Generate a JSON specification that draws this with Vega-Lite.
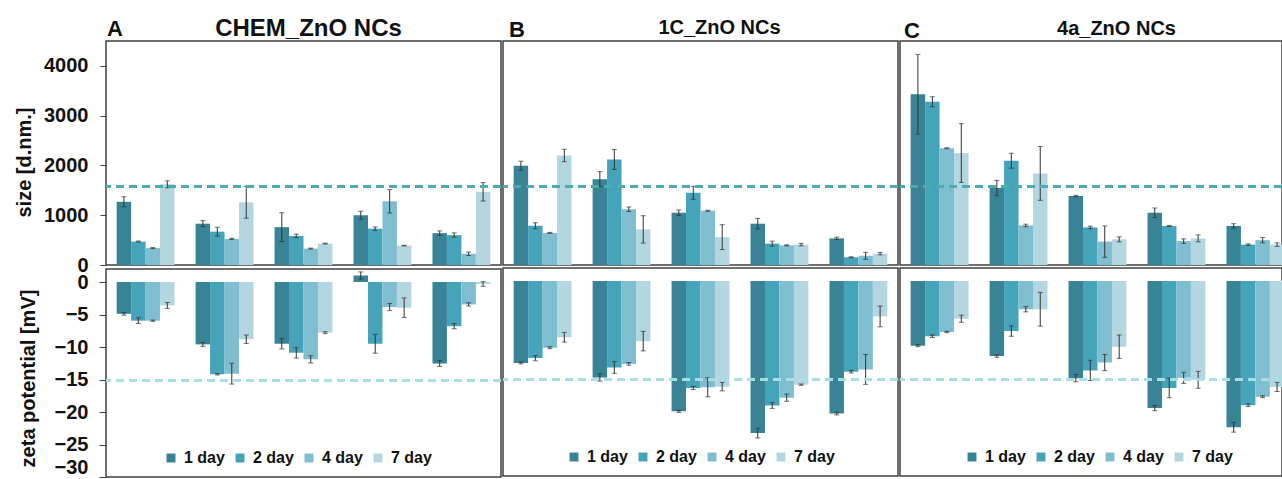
{
  "$schema": "https://vega.github.io/schema/vega-lite/v6.json",
  "padding": {"left": 13, "top": 15, "right": 0, "bottom": 2},
  "spacing": -3,
  "config": {
    "font": "Liberation Sans",
    "view": {"stroke": "#404040", "strokeWidth": 1.5},
    "axis": {"labelFont": "Liberation Sans", "titleFont": "Liberation Sans", "labelFontWeight": "bold", "titleFontWeight": "bold", "labelFontSize": 20, "titleFontSize": 20, "labelColor": "#111111", "titleColor": "#111111", "tickColor": "#404040", "grid": false},
    "title": {"font": "Liberation Sans", "fontWeight": "bold", "color": "#111111"}
  },
  "datasets": {
    "t": [
      {"s": "A", "g": 1, "d": "1 day", "size": 1270, "se": 100, "zeta": -4.9, "ze": 0.2},
      {"s": "A", "g": 1, "d": "2 day", "size": 470, "se": 10, "zeta": -5.95, "ze": 0.45},
      {"s": "A", "g": 1, "d": "4 day", "size": 340, "se": 10, "zeta": -5.95, "ze": 0.1},
      {"s": "A", "g": 1, "d": "7 day", "size": 1620, "se": 70, "zeta": -3.6, "ze": 0.45},
      {"s": "A", "g": 2, "d": "1 day", "size": 830, "se": 60, "zeta": -9.6, "ze": 0.3},
      {"s": "A", "g": 2, "d": "2 day", "size": 670, "se": 90, "zeta": -14.2, "ze": 0.1},
      {"s": "A", "g": 2, "d": "4 day", "size": 525, "se": 12, "zeta": -14.1, "ze": 1.6},
      {"s": "A", "g": 2, "d": "7 day", "size": 1260, "se": 320, "zeta": -8.8, "ze": 0.65},
      {"s": "A", "g": 3, "d": "1 day", "size": 760, "se": 290, "zeta": -9.5, "ze": 0.8},
      {"s": "A", "g": 3, "d": "2 day", "size": 585, "se": 35, "zeta": -10.9, "ze": 0.8},
      {"s": "A", "g": 3, "d": "4 day", "size": 330, "se": 10, "zeta": -11.9, "ze": 0.55},
      {"s": "A", "g": 3, "d": "7 day", "size": 430, "se": 8, "zeta": -7.8, "ze": 0.15},
      {"s": "A", "g": 4, "d": "1 day", "size": 1000, "se": 80, "zeta": 1.0, "ze": 0.55},
      {"s": "A", "g": 4, "d": "2 day", "size": 730, "se": 35, "zeta": -9.5, "ze": 1.45},
      {"s": "A", "g": 4, "d": "4 day", "size": 1280, "se": 235, "zeta": -3.85, "ze": 0.55},
      {"s": "A", "g": 4, "d": "7 day", "size": 390, "se": 6, "zeta": -3.95, "ze": 1.5},
      {"s": "A", "g": 5, "d": "1 day", "size": 640, "se": 45, "zeta": -12.55, "ze": 0.45},
      {"s": "A", "g": 5, "d": "2 day", "size": 600, "se": 45, "zeta": -6.8, "ze": 0.4},
      {"s": "A", "g": 5, "d": "4 day", "size": 225, "se": 35, "zeta": -3.45, "ze": 0.25},
      {"s": "A", "g": 5, "d": "7 day", "size": 1470, "se": 185, "zeta": -0.3, "ze": 0.35},
      {"s": "B", "g": 1, "d": "1 day", "size": 1995, "se": 90, "zeta": -12.6, "ze": 0.15},
      {"s": "B", "g": 1, "d": "2 day", "size": 790, "se": 60, "zeta": -11.85, "ze": 0.4},
      {"s": "B", "g": 1, "d": "4 day", "size": 645, "se": 10, "zeta": -10.25, "ze": 0.15},
      {"s": "B", "g": 1, "d": "7 day", "size": 2200, "se": 125, "zeta": -8.65, "ze": 0.75},
      {"s": "B", "g": 2, "d": "1 day", "size": 1725, "se": 150, "zeta": -14.85, "ze": 0.55},
      {"s": "B", "g": 2, "d": "2 day", "size": 2120, "se": 200, "zeta": -13.3, "ze": 0.9},
      {"s": "B", "g": 2, "d": "4 day", "size": 1120, "se": 45, "zeta": -12.75, "ze": 0.2},
      {"s": "B", "g": 2, "d": "7 day", "size": 715, "se": 275, "zeta": -9.25, "ze": 1.5},
      {"s": "B", "g": 3, "d": "1 day", "size": 1050, "se": 55, "zeta": -20.05, "ze": 0.15},
      {"s": "B", "g": 3, "d": "2 day", "size": 1450, "se": 130, "zeta": -16.45, "ze": 0.25},
      {"s": "B", "g": 3, "d": "4 day", "size": 1090, "se": 10, "zeta": -16.35, "ze": 1.45},
      {"s": "B", "g": 3, "d": "7 day", "size": 560, "se": 250, "zeta": -16.25, "ze": 0.65},
      {"s": "B", "g": 4, "d": "1 day", "size": 830, "se": 105, "zeta": -23.4, "ze": 0.75},
      {"s": "B", "g": 4, "d": "2 day", "size": 430, "se": 50, "zeta": -19.15, "ze": 0.45},
      {"s": "B", "g": 4, "d": "4 day", "size": 395, "se": 10, "zeta": -17.95, "ze": 0.55},
      {"s": "B", "g": 4, "d": "7 day", "size": 410, "se": 25, "zeta": -15.95, "ze": 0.1},
      {"s": "B", "g": 5, "d": "1 day", "size": 535, "se": 25, "zeta": -20.4, "ze": 0.2},
      {"s": "B", "g": 5, "d": "2 day", "size": 155, "se": 10, "zeta": -13.95, "ze": 0.2},
      {"s": "B", "g": 5, "d": "4 day", "size": 185, "se": 70, "zeta": -13.6, "ze": 2.3},
      {"s": "B", "g": 5, "d": "7 day", "size": 228, "se": 25, "zeta": -5.45, "ze": 1.6},
      {"s": "C", "g": 1, "d": "1 day", "size": 3430, "se": 800, "zeta": -9.95, "ze": 0.15},
      {"s": "C", "g": 1, "d": "2 day", "size": 3280, "se": 100, "zeta": -8.5, "ze": 0.2},
      {"s": "C", "g": 1, "d": "4 day", "size": 2345, "se": 10, "zeta": -7.85, "ze": 0.1},
      {"s": "C", "g": 1, "d": "7 day", "size": 2250, "se": 590, "zeta": -5.8, "ze": 0.55},
      {"s": "C", "g": 2, "d": "1 day", "size": 1545, "se": 155, "zeta": -11.55, "ze": 0.2},
      {"s": "C", "g": 2, "d": "2 day", "size": 2095, "se": 150, "zeta": -7.7, "ze": 0.8},
      {"s": "C", "g": 2, "d": "4 day", "size": 795, "se": 25, "zeta": -4.35, "ze": 0.4},
      {"s": "C", "g": 2, "d": "7 day", "size": 1840, "se": 540, "zeta": -4.35, "ze": 2.6},
      {"s": "C", "g": 3, "d": "1 day", "size": 1385, "se": 15, "zeta": -14.95, "ze": 0.55},
      {"s": "C", "g": 3, "d": "2 day", "size": 755, "se": 25, "zeta": -13.75, "ze": 1.55},
      {"s": "C", "g": 3, "d": "4 day", "size": 470, "se": 315, "zeta": -12.55, "ze": 1.25},
      {"s": "C", "g": 3, "d": "7 day", "size": 515, "se": 50, "zeta": -10.1, "ze": 1.8},
      {"s": "C", "g": 4, "d": "1 day", "size": 1050, "se": 95, "zeta": -19.55, "ze": 0.4},
      {"s": "C", "g": 4, "d": "2 day", "size": 785, "se": 10, "zeta": -16.45, "ze": 1.5},
      {"s": "C", "g": 4, "d": "4 day", "size": 480, "se": 45, "zeta": -14.9, "ze": 0.85},
      {"s": "C", "g": 4, "d": "7 day", "size": 535, "se": 70, "zeta": -15.2, "ze": 1.3},
      {"s": "C", "g": 5, "d": "1 day", "size": 785, "se": 45, "zeta": -22.5, "ze": 0.75},
      {"s": "C", "g": 5, "d": "2 day", "size": 410, "se": 15, "zeta": -19.1, "ze": 0.2},
      {"s": "C", "g": 5, "d": "4 day", "size": 500, "se": 55, "zeta": -17.8, "ze": 0.15},
      {"s": "C", "g": 5, "d": "7 day", "size": 410, "se": 35, "zeta": -16.3, "ze": 0.7}
    ]
  },
  "resolve": {"scale": {"x": "independent", "y": "independent", "color": "independent"}, "legend": {"color": "independent"}},
  "hconcat": [
    {
      "columns": 1,
      "align": "none",
      "spacing": -8,
      "resolve": {"scale": {"x": "independent", "y": "independent", "color": "independent"}, "legend": {"color": "independent"}},
      "concat": [
        {
          "width": 395, "height": 224,
          "data": {"name": "t"},
          "transform": [{"filter": "datum.s === 'A'"}],
          "title": {"text": "A", "anchor": "start", "frame": "group", "fontSize": 22, "baseline": "alphabetic", "offset": -19, "dx": 1, "dy": 23},
          "layer": [
            {
              "encoding": {
                "x": {"field": "g", "type": "nominal", "scale": {"paddingInner": 0.267, "paddingOuter": 0.135}, "axis": {"orient": "top", "labels": false, "ticks": false, "domain": false, "title": "CHEM_ZnO NCs", "titleFontSize": 24, "titleX": 202, "titleY": -6, "titleAlign": "center", "titleBaseline": "alphabetic"}},
                "xOffset": {"field": "d", "type": "nominal", "scale": {"paddingInner": 0, "paddingOuter": 0}},
                "y": {"field": "size", "type": "quantitative", "scale": {"domain": [0, 4500], "nice": false}, "axis": {"values": [0, 1000, 2000, 3000, 4000], "format": "d", "title": "size [d.nm.]", "titleY": 121, "tickSize": 6, "labelPadding": 12, "titlePadding": 9, "labelOverlap": false, "domain": false}}
              },
              "layer": [
                {"mark": {"type": "bar"}, "encoding": {"color": {"field": "d", "type": "nominal", "scale": {"domain": ["1 day", "2 day", "4 day", "7 day"], "range": ["#388496", "#45A3BA", "#7FBDD0", "#B4D6E1"]}, "legend": null}}},
                {"mark": {"type": "errorbar", "ticks": {"size": 5}, "color": "#333333", "thickness": 1}, "encoding": {"yError": {"field": "se"}}}
              ]
            },
            {"mark": {"type": "rule", "strokeDash": [8, 5], "color": "#4BADB0", "strokeWidth": 2}, "encoding": {"y": {"datum": 1580, "type": "quantitative", "axis": {"values": [0, 1000, 2000, 3000, 4000], "format": "d", "title": "size [d.nm.]", "titleY": 121, "tickSize": 6, "labelPadding": 12, "titlePadding": 9, "labelOverlap": false, "domain": false}}}}
          ]
        },
        {
          "width": 395, "height": 208,
          "data": {"name": "t"},
          "transform": [{"filter": "datum.s === 'A'"}],
          "layer": [
            {
              "encoding": {
                "x": {"field": "g", "type": "nominal", "scale": {"paddingInner": 0.267, "paddingOuter": 0.135}, "axis": null},
                "xOffset": {"field": "d", "type": "nominal", "scale": {"paddingInner": 0, "paddingOuter": 0}},
                "y": {"field": "zeta", "type": "quantitative", "scale": {"domain": [-30, 2], "nice": false}, "axis": {"values": [-30, -25, -20, -15, -10, -5, 0], "title": "zeta potential [mV]", "titleY": 109, "tickSize": 7, "labelPadding": 11, "titlePadding": 16, "labelOverlap": false, "labelFlush": true, "domain": false}}
              },
              "layer": [
                {"mark": {"type": "bar"}, "encoding": {"color": {"field": "d", "type": "nominal", "scale": {"domain": ["1 day", "2 day", "4 day", "7 day"], "range": ["#388496", "#45A3BA", "#7FBDD0", "#B4D6E1"]}, "legend": {"orient": "none", "legendX": 57, "legendY": 181, "direction": "horizontal", "title": null, "symbolType": "square", "symbolSize": 80, "symbolStrokeWidth": 0, "labelFontSize": 16, "labelFontWeight": "bold", "labelFont": "Liberation Sans", "labelColor": "#111111", "columnPadding": 7, "labelOffset": 5}}}},
                {"mark": {"type": "errorbar", "ticks": {"size": 5}, "color": "#333333", "thickness": 1}, "encoding": {"yError": {"field": "ze"}}}
              ]
            },
            {"mark": {"type": "rule", "strokeDash": [8, 5], "color": "#A9DEE5", "strokeWidth": 2}, "encoding": {"y": {"datum": -15.2, "type": "quantitative", "axis": {"values": [-30, -25, -20, -15, -10, -5, 0], "title": "zeta potential [mV]", "titleY": 109, "tickSize": 7, "labelPadding": 11, "titlePadding": 16, "labelOverlap": false, "labelFlush": true, "domain": false}}}}
          ]
        }
      ]
    },
    {
      "spacing": 1,
      "resolve": {"scale": {"x": "independent", "y": "independent", "color": "independent"}, "legend": {"color": "independent"}},
      "vconcat": [
        {
          "width": 395, "height": 224,
          "data": {"name": "t"},
          "transform": [{"filter": "datum.s === 'B'"}],
          "title": {"text": "B", "anchor": "start", "frame": "group", "fontSize": 22, "baseline": "alphabetic", "offset": -19, "dx": 6, "dy": 23},
          "layer": [
            {
              "encoding": {
                "x": {"field": "g", "type": "nominal", "scale": {"paddingInner": 0.267, "paddingOuter": 0.135}, "axis": {"orient": "top", "labels": false, "ticks": false, "domain": false, "title": "1C_ZnO NCs", "titleFontSize": 20, "titleX": 216, "titleY": -8, "titleAlign": "center", "titleBaseline": "alphabetic"}},
                "xOffset": {"field": "d", "type": "nominal", "scale": {"paddingInner": 0, "paddingOuter": 0}},
                "y": {"field": "size", "type": "quantitative", "scale": {"domain": [0, 4500], "nice": false}, "axis": null}
              },
              "layer": [
                {"mark": {"type": "bar"}, "encoding": {"color": {"field": "d", "type": "nominal", "scale": {"domain": ["1 day", "2 day", "4 day", "7 day"], "range": ["#388496", "#45A3BA", "#7FBDD0", "#B4D6E1"]}, "legend": null}}},
                {"mark": {"type": "errorbar", "ticks": {"size": 5}, "color": "#333333", "thickness": 1}, "encoding": {"yError": {"field": "se"}}}
              ]
            },
            {"mark": {"type": "rule", "strokeDash": [8, 5], "color": "#4BADB0", "strokeWidth": 2}, "encoding": {"y": {"datum": 1580, "type": "quantitative", "axis": null}}}
          ]
        },
        {
          "width": 395, "height": 208,
          "data": {"name": "t"},
          "transform": [{"filter": "datum.s === 'B'"}],
          "layer": [
            {
              "encoding": {
                "x": {"field": "g", "type": "nominal", "scale": {"paddingInner": 0.267, "paddingOuter": 0.135}, "axis": null},
                "xOffset": {"field": "d", "type": "nominal", "scale": {"paddingInner": 0, "paddingOuter": 0}},
                "y": {"field": "zeta", "type": "quantitative", "scale": {"domain": [-30, 2], "nice": false}, "axis": null}
              },
              "layer": [
                {"mark": {"type": "bar"}, "encoding": {"color": {"field": "d", "type": "nominal", "scale": {"domain": ["1 day", "2 day", "4 day", "7 day"], "range": ["#388496", "#45A3BA", "#7FBDD0", "#B4D6E1"]}, "legend": {"orient": "none", "legendX": 63, "legendY": 181, "direction": "horizontal", "title": null, "symbolType": "square", "symbolSize": 80, "symbolStrokeWidth": 0, "labelFontSize": 16, "labelFontWeight": "bold", "labelFont": "Liberation Sans", "labelColor": "#111111", "columnPadding": 7, "labelOffset": 5}}}},
                {"mark": {"type": "errorbar", "ticks": {"size": 5}, "color": "#333333", "thickness": 1}, "encoding": {"yError": {"field": "ze"}}}
              ]
            },
            {"mark": {"type": "rule", "strokeDash": [8, 5], "color": "#A9DEE5", "strokeWidth": 2}, "encoding": {"y": {"datum": -15.2, "type": "quantitative", "axis": null}}}
          ]
        }
      ]
    },
    {
      "spacing": 1,
      "resolve": {"scale": {"x": "independent", "y": "independent", "color": "independent"}, "legend": {"color": "independent"}},
      "vconcat": [
        {
          "width": 382, "height": 224,
          "data": {"name": "t"},
          "transform": [{"filter": "datum.s === 'C'"}],
          "title": {"text": "C", "anchor": "start", "frame": "group", "fontSize": 22, "baseline": "alphabetic", "offset": -19, "dx": 4, "dy": 23},
          "layer": [
            {
              "encoding": {
                "x": {"field": "g", "type": "nominal", "scale": {"paddingInner": 0.267, "paddingOuter": 0.135, "range": [0, 395]}, "axis": {"orient": "top", "labels": false, "ticks": false, "domain": false, "title": "4a_ZnO NCs", "titleFontSize": 20, "titleX": 216, "titleY": -7, "titleAlign": "center", "titleBaseline": "alphabetic"}},
                "xOffset": {"field": "d", "type": "nominal", "scale": {"paddingInner": 0, "paddingOuter": 0}},
                "y": {"field": "size", "type": "quantitative", "scale": {"domain": [0, 4500], "nice": false}, "axis": null}
              },
              "layer": [
                {"mark": {"type": "bar", "clip": true}, "encoding": {"color": {"field": "d", "type": "nominal", "scale": {"domain": ["1 day", "2 day", "4 day", "7 day"], "range": ["#388496", "#45A3BA", "#7FBDD0", "#B4D6E1"]}, "legend": null}}},
                {"mark": {"type": "errorbar", "ticks": {"size": 5}, "color": "#333333", "thickness": 1, "clip": true}, "encoding": {"yError": {"field": "se"}}}
              ]
            },
            {"mark": {"type": "rule", "strokeDash": [8, 5], "color": "#4BADB0", "strokeWidth": 2}, "encoding": {"y": {"datum": 1580, "type": "quantitative", "axis": null}}}
          ]
        },
        {
          "width": 382, "height": 208,
          "data": {"name": "t"},
          "transform": [{"filter": "datum.s === 'C'"}],
          "layer": [
            {
              "encoding": {
                "x": {"field": "g", "type": "nominal", "scale": {"paddingInner": 0.267, "paddingOuter": 0.135, "range": [0, 395]}, "axis": null},
                "xOffset": {"field": "d", "type": "nominal", "scale": {"paddingInner": 0, "paddingOuter": 0}},
                "y": {"field": "zeta", "type": "quantitative", "scale": {"domain": [-30, 2], "nice": false}, "axis": null}
              },
              "layer": [
                {"mark": {"type": "bar", "clip": true}, "encoding": {"color": {"field": "d", "type": "nominal", "scale": {"domain": ["1 day", "2 day", "4 day", "7 day"], "range": ["#388496", "#45A3BA", "#7FBDD0", "#B4D6E1"]}, "legend": {"orient": "none", "legendX": 64, "legendY": 181, "direction": "horizontal", "title": null, "symbolType": "square", "symbolSize": 80, "symbolStrokeWidth": 0, "labelFontSize": 16, "labelFontWeight": "bold", "labelFont": "Liberation Sans", "labelColor": "#111111", "columnPadding": 7, "labelOffset": 5}}}},
                {"mark": {"type": "errorbar", "ticks": {"size": 5}, "color": "#333333", "thickness": 1, "clip": true}, "encoding": {"yError": {"field": "ze"}}}
              ]
            },
            {"mark": {"type": "rule", "strokeDash": [8, 5], "color": "#A9DEE5", "strokeWidth": 2}, "encoding": {"y": {"datum": -15.2, "type": "quantitative", "axis": null}}}
          ]
        }
      ]
    }
  ]
}
